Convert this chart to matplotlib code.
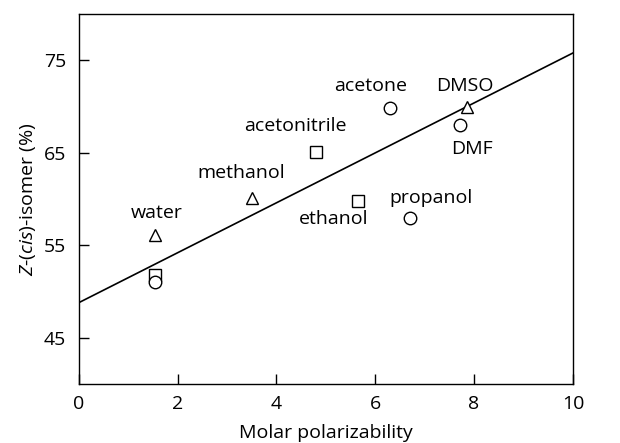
import matplotlib
matplotlib.use("Agg")
import matplotlib.pyplot as plt
import numpy as np

plt.rcParams['font.family'] = ['Open Sans', 'DejaVu Sans']
plt.rcParams['mathtext.fontset'] = 'custom'
plt.rcParams['mathtext.rm'] = 'Open Sans'
plt.rcParams['mathtext.it'] = 'Open Sans:italic'

# solvent data: molar polarizability vs Z-(cis)-isomer (%)
tri_names = ["water", "methanol", "DMSO"]
tri_x = [1.55, 3.5, 7.85]
tri_y = [56.1, 60.1, 70.0]

sq_names = ["water_sq", "acetonitrile", "ethanol"]
sq_x = [1.55, 4.8, 5.65]
sq_y = [51.8, 65.1, 59.8]

circ_names = ["water_c", "acetone", "propanol", "DMF"]
circ_x = [1.55, 6.3, 6.7, 7.71]
circ_y = [51.0, 69.9, 58.0, 68.0]

fit_x = [0, 10]
fit_y = [48.8, 75.8]

# label text, anchor point, offset in pixels
labels = [
    ("water", 1.55, 56.1, 1, 22),
    ("methanol", 3.5, 60.1, -11, 25),
    ("acetonitrile", 4.8, 65.1, -21, 26),
    ("acetone", 6.3, 69.9, -19, 22),
    ("DMSO", 7.85, 70.0, -2, 21),
    ("DMF", 7.71, 68.0, 12, -24),
    ("ethanol", 5.65, 59.8, -24, -18),
    ("propanol", 6.7, 58.0, 21, 20),
]

fs = 14

fig = plt.figure(figsize=(6.2, 4.43), dpi=100)
ax = fig.add_axes([0.127, 0.133, 0.797, 0.835])

ax.plot(fit_x, fit_y, color='black', lw=1.2, zorder=1)
mk = dict(linestyle='none', mfc='white', mec='black', mew=1.0, ms=9, zorder=2)
ax.plot(sq_x, sq_y, marker='s', **mk)
ax.plot(circ_x, circ_y, marker='o', **mk)
ax.plot(tri_x, tri_y, marker='^', **mk)

for txt, x, y, dx, dy in labels:
    ax.annotate(txt, (x, y), xytext=(dx, dy), textcoords='offset pixels',
                ha='center', va='center', fontsize=fs)

ax.set_xlim(0, 10)
ax.set_ylim(40, 80)
ax.set_xticks([0, 2, 4, 6, 8, 10])
ax.set_yticks([45, 55, 65, 75])
ax.tick_params(direction='in', length=7, width=1, labelsize=fs)
ax.tick_params(axis='y', pad=9)
ax.tick_params(axis='x', pad=8)
for s in ax.spines.values():
    s.set_linewidth(1.0)

ax.set_xlabel("Molar polarizability", fontsize=fs, labelpad=8)
ax.set_ylabel(r"$\it{Z}$-($\it{cis}$)-isomer (%)", fontsize=fs, labelpad=4)

fig.savefig("out.png", dpi=100)
